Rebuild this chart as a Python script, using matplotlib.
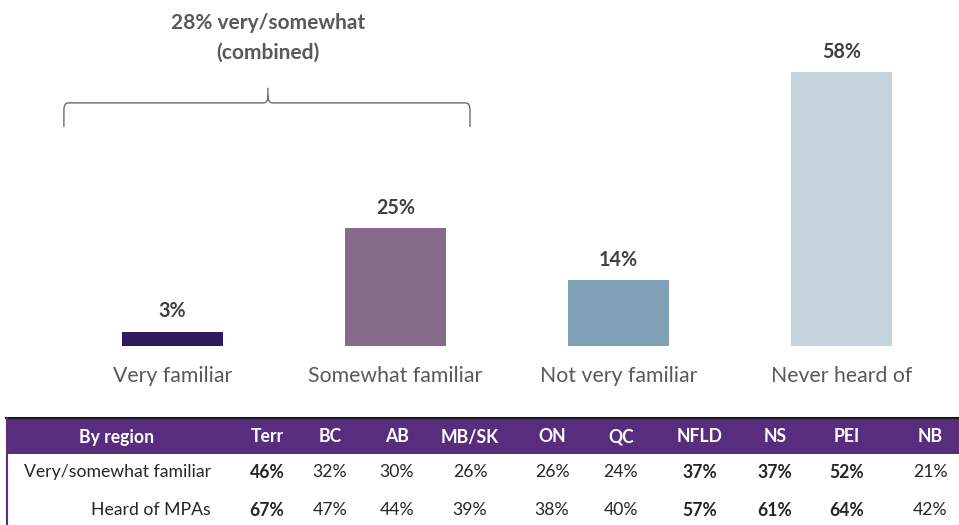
import matplotlib.pyplot as plt
from matplotlib.path import Path
from matplotlib.patches import PathPatch, Rectangle

plt.rcParams['font.family'] = ['Lato', 'DejaVu Sans']

categories = ['Very familiar', 'Somewhat familiar', 'Not very familiar', 'Never heard of']
values = [3, 25, 14, 58]
colors = ['#2e1a5e', '#856a8a', '#7fa0b5', '#c5d3dd']
combined_label = '28% very/somewhat\n(combined)'

regions = ['Terr', 'BC', 'AB', 'MB/SK', 'ON', 'QC', 'NFLD', 'NS', 'PEI', 'NB']
row_labels = ['Very/somewhat familiar', 'Heard of MPAs']
familiar = [46, 32, 30, 26, 26, 24, 37, 37, 52, 21]
heard = [67, 47, 44, 39, 38, 40, 57, 61, 64, 42]
highlight = [True, False, False, False, False, False, True, True, True, False]

W, H = 959, 525
fig = plt.figure(figsize=(W / 100, H / 100), dpi=100)

# bar chart area (pixel layout: x 61..953, y 0..346 from top)
ax = fig.add_axes([61 / W, (H - 346) / H, 892 / W, 346 / H])
xs = list(range(len(categories)))
ax.bar(xs, values, width=0.457, color=colors)
ax.set_xlim(-0.5, 3.5)
ax.set_ylim(0, 73.3)
ax.axis('off')

for x, v in zip(xs, values):
    ax.text(x, v + 2.2, f'{v}%', ha='center', va='bottom', fontsize=14.2,
            fontweight='bold', color='#404040')
    ax.text(x, -4.2, categories[x], ha='center', va='top', fontsize=15.3,
            color='#595959', clip_on=False)

# bracket over the first two bars
bl, br, bc = xs[0] - 0.487, xs[1] + 0.334, 0.428
yl, ye, yt = 51.5, 46.4, 54.7
dx, dy = 0.02, 1.5
verts = [(bl, ye), (bl, yl - dy), (bl, yl), (bl + dx, yl),
         (bc - dx, yl), (bc, yl), (bc, yl + dy), (bc, yt),
         (bc, yl + dy), (bc, yl), (bc + dx, yl),
         (br - dx, yl), (br, yl), (br, yl - dy), (br, ye)]
codes = [Path.MOVETO, Path.LINETO, Path.CURVE3, Path.CURVE3,
         Path.LINETO, Path.CURVE3, Path.CURVE3, Path.LINETO,
         Path.MOVETO, Path.CURVE3, Path.CURVE3,
         Path.LINETO, Path.CURVE3, Path.CURVE3, Path.LINETO]
ax.add_patch(PathPatch(Path(verts, codes), fill=False, edgecolor='#6b6b6b',
                       lw=1.0, clip_on=False))
ax.text(bc, 60.0, combined_label, ha='center', va='bottom', fontsize=15,
        fontweight='bold', color='#595959', linespacing=1.62)

# region table (pixel coords)
tx = fig.add_axes([0, 0, 1, 120 / H])
tx.set_xlim(0, W)
tx.set_ylim(525, 405)
tx.axis('off')
tx.add_patch(Rectangle((6, 418), W - 6, 36, facecolor='#582d7e', edgecolor='none'))
tx.plot([6, W], [418, 418], color='#1a1a1a', lw=1.5)
tx.plot([6.5, 6.5], [418, 525], color='#582d7e', lw=1.5)

col_x = [267, 330, 397, 470, 552, 621, 700, 775, 847, 930]
tx.text(117, 437, 'By region', ha='center', va='center', fontsize=12.7,
        fontweight='bold', color='white')
for cx, r in zip(col_x, regions):
    tx.text(cx, 437, r, ha='center', va='center', fontsize=12.7,
            fontweight='bold', color='white')
for ry, lab, row in zip([472, 510], row_labels, [familiar, heard]):
    tx.text(211, ry, lab, ha='right', va='center', fontsize=12.7, color='#262626')
    for cx, v, b in zip(col_x, row, highlight):
        tx.text(cx, ry, f'{v}%', ha='center', va='center', fontsize=12.7,
                fontweight='bold' if b else 'normal', color='#262626')

fig.savefig('out.png', dpi=100)
